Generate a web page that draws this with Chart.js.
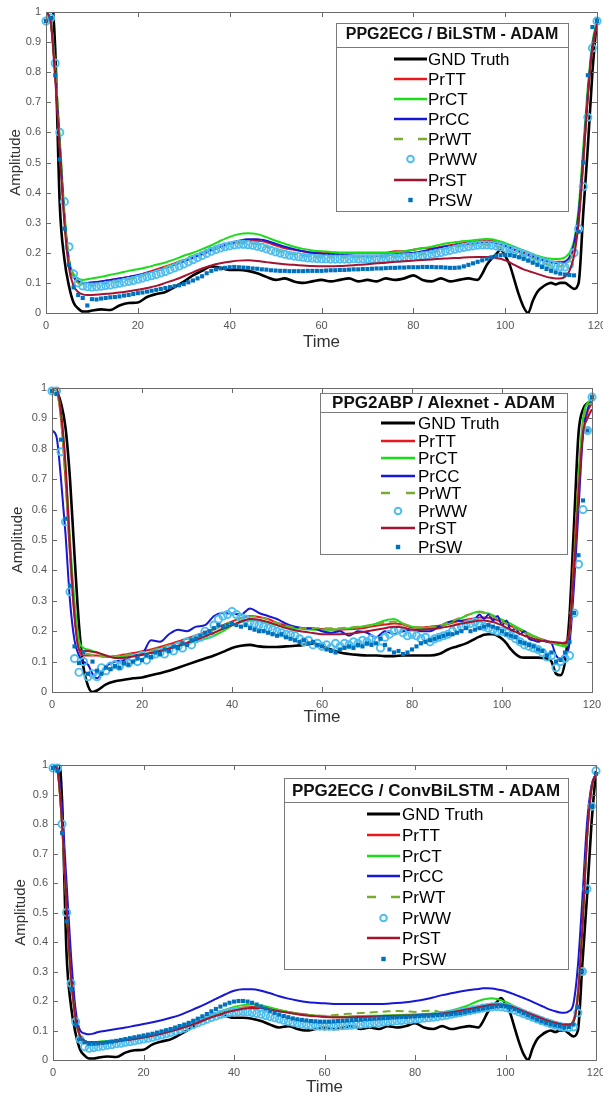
<!DOCTYPE html>
<html>
<head>
<meta charset="utf-8">
<script src="https://cdn.jsdelivr.net/npm/chart.js@4.4.1/dist/chart.umd.min.js"></script>
<style>
  html, body { margin: 0; padding: 0; background: #fff; overflow: hidden; width: 603px; height: 1098px; }
  canvas { position: absolute; left: 0; }
</style>
</head>
<body>
<canvas id="c1" width="620" height="360" style="top:0px"></canvas>
<canvas id="c2" width="620" height="370" style="top:360px"></canvas>
<canvas id="c3" width="620" height="368" style="top:730px"></canvas>
<script>
// time positions used by the line series (denser where the curves turn fast)
const tLine = [0,1,2,3,4,5,6,7,8,9,10,
  12,14,16,18,20,22,24,26,28,30,
  32,34,36,38,40,42,44,46,48,50,
  52,54,56,58,60,62,64,66,68,70,
  72,74,76,78,80,82,84,86,88,90,
  92,94,
  95,96,97,98,99,100,101,102,103,104,
  105,106,107,108,109,110,111,112,113,114,
  115,116,117,118,119,120];

const seriesNames = ['GND Truth','PrTT','PrCT','PrCC','PrWT','PrWW','PrST','PrSW'];

// ---------- ground truths ----------
const gndEcg = [1.2,1.1,0.88,0.36,0.18,0.09,0.035,0.015,0.005,0.005,0.008,
  0.012,0.01,0.025,0.033,0.035,0.053,0.063,0.07,0.086,0.104,
  0.125,0.14,0.155,0.15,0.143,0.143,0.14,0.132,0.12,0.11,
  0.115,0.105,0.1,0.105,0.11,0.105,0.11,0.115,0.105,0.11,
  0.105,0.115,0.11,0.115,0.125,0.11,0.105,0.115,0.105,0.11,
  0.115,0.11,
  0.13,0.16,0.18,0.195,0.21,0.19,0.16,0.11,0.06,0.02,
  0.0,0.04,0.07,0.085,0.095,0.1,0.095,0.1,0.1,0.09,
  0.08,0.1,0.33,0.55,0.8,0.98];

const gndAbp = [1.0,0.99,0.95,0.87,0.7,0.45,0.22,0.08,0.02,0.0,0.005,
  0.025,0.035,0.04,0.045,0.048,0.055,0.062,0.07,0.08,0.09,
  0.1,0.11,0.12,0.132,0.145,0.152,0.155,0.15,0.148,0.148,
  0.15,0.152,0.155,0.16,0.15,0.14,0.13,0.125,0.122,0.12,
  0.12,0.118,0.118,0.12,0.12,0.12,0.12,0.125,0.14,0.15,
  0.16,0.175,
  0.182,0.188,0.19,0.19,0.185,0.175,0.16,0.14,0.125,0.115,
  0.113,0.113,0.113,0.113,0.112,0.11,0.1,0.06,0.055,0.1,
  0.25,0.55,0.85,0.93,0.95,0.96];

// ---------- panel 1 : PPG2ECG / BiLSTM ----------
const p1TT = [1.0,0.97,0.8,0.56,0.32,0.17,0.12,0.105,0.1,0.1,0.1,
  0.105,0.11,0.115,0.12,0.125,0.135,0.145,0.155,0.165,0.175,
  0.185,0.2,0.21,0.22,0.23,0.235,0.24,0.24,0.235,0.225,
  0.215,0.21,0.205,0.2,0.2,0.2,0.2,0.2,0.2,0.2,
  0.2,0.2,0.205,0.205,0.21,0.215,0.215,0.22,0.225,0.23,
  0.235,0.24,
  0.24,0.24,0.24,0.235,0.23,0.225,0.22,0.21,0.205,0.2,
  0.195,0.19,0.185,0.18,0.175,0.17,0.17,0.17,0.17,0.18,
  0.22,0.32,0.5,0.72,0.88,0.96];
const p1CT = [1.0,0.97,0.82,0.58,0.34,0.18,0.13,0.115,0.11,0.112,0.115,
  0.12,0.127,0.133,0.14,0.145,0.152,0.16,0.168,0.178,0.19,
  0.2,0.212,0.225,0.24,0.253,0.262,0.265,0.262,0.252,0.24,
  0.23,0.22,0.213,0.208,0.205,0.203,0.2,0.2,0.2,0.2,
  0.2,0.2,0.202,0.205,0.21,0.215,0.22,0.228,0.233,0.237,
  0.24,0.243,
  0.245,0.246,0.245,0.242,0.238,0.232,0.226,0.22,0.214,0.208,
  0.202,0.196,0.19,0.186,0.182,0.18,0.179,0.18,0.185,0.2,
  0.24,0.35,0.55,0.75,0.9,0.97];
const p1CC = [1.0,0.97,0.8,0.56,0.32,0.17,0.12,0.105,0.1,0.1,0.102,
  0.105,0.11,0.115,0.12,0.126,0.133,0.14,0.15,0.16,0.172,
  0.183,0.195,0.208,0.22,0.232,0.24,0.245,0.245,0.24,0.23,
  0.22,0.212,0.205,0.2,0.197,0.195,0.193,0.192,0.19,0.19,
  0.19,0.192,0.195,0.198,0.2,0.205,0.212,0.218,0.222,0.226,
  0.23,0.233,
  0.235,0.236,0.235,0.232,0.228,0.222,0.216,0.21,0.204,0.198,
  0.192,0.186,0.18,0.176,0.172,0.168,0.166,0.166,0.17,0.185,
  0.23,0.33,0.52,0.73,0.89,0.96];
const p1WT = [1.0,0.97,0.8,0.56,0.32,0.18,0.12,0.1,0.095,0.092,0.092,
  0.095,0.1,0.105,0.112,0.12,0.13,0.14,0.152,0.165,0.178,
  0.19,0.2,0.21,0.22,0.228,0.232,0.232,0.228,0.22,0.21,
  0.2,0.195,0.19,0.187,0.185,0.185,0.185,0.185,0.185,0.185,
  0.185,0.186,0.187,0.188,0.19,0.195,0.2,0.21,0.218,0.222,
  0.226,0.228,
  0.228,0.227,0.225,0.222,0.218,0.212,0.206,0.2,0.195,0.19,
  0.185,0.18,0.174,0.168,0.162,0.157,0.155,0.155,0.16,0.175,
  0.21,0.3,0.5,0.72,0.88,0.96];
const p1ST = [1.0,0.97,0.78,0.54,0.3,0.15,0.09,0.07,0.062,0.06,0.06,
  0.062,0.065,0.068,0.072,0.077,0.083,0.09,0.1,0.11,0.122,
  0.135,0.148,0.158,0.165,0.17,0.174,0.175,0.173,0.169,0.165,
  0.162,0.16,0.158,0.156,0.155,0.155,0.156,0.158,0.16,0.162,
  0.165,0.167,0.17,0.172,0.174,0.176,0.178,0.18,0.182,0.183,
  0.185,0.186,
  0.186,0.186,0.185,0.183,0.18,0.175,0.168,0.16,0.152,0.145,
  0.14,0.135,0.13,0.125,0.12,0.117,0.115,0.115,0.12,0.14,
  0.19,0.3,0.5,0.72,0.88,0.96];
// marker series, one value per time step 0..120
const p1WW = [0.97,0.98,0.83,0.6,0.37,0.22,0.13,0.1,0.09,0.087,
  0.086,0.087,0.089,0.091,0.093,0.096,0.099,0.102,0.105,0.108,
  0.112,0.116,0.12,0.124,0.128,0.133,0.138,0.144,0.15,0.156,
  0.163,0.17,0.177,0.184,0.191,0.198,0.205,0.211,0.216,0.22,
  0.223,0.226,0.228,0.228,0.227,0.225,0.222,0.218,0.213,0.208,
  0.203,0.199,0.195,0.192,0.189,0.187,0.185,0.183,0.182,0.181,
  0.18,0.18,0.179,0.179,0.179,0.179,0.179,0.18,0.18,0.18,
  0.18,0.18,0.18,0.181,0.181,0.182,0.182,0.183,0.184,0.185,
  0.186,0.188,0.19,0.192,0.195,0.198,0.201,0.205,0.208,0.212,
  0.215,0.218,0.221,0.223,0.225,0.226,0.226,0.225,0.223,0.22,
  0.216,0.211,0.206,0.2,0.195,0.189,0.183,0.177,0.171,0.166,
  0.161,0.157,0.154,0.153,0.16,0.2,0.28,0.42,0.65,0.88,
  0.97];
const p1SW = [0.97,0.98,0.79,0.51,0.28,0.16,0.085,0.06,0.05,0.025,
  0.046,0.045,0.048,0.05,0.052,0.053,0.055,0.058,0.06,0.063,
  0.066,0.068,0.071,0.074,0.077,0.08,0.083,0.086,0.089,0.092,
  0.096,0.102,0.108,0.115,0.122,0.132,0.14,0.145,0.148,0.15,
  0.152,0.153,0.152,0.151,0.15,0.148,0.147,0.145,0.144,0.142,
  0.141,0.14,0.14,0.139,0.139,0.139,0.139,0.14,0.14,0.14,
  0.14,0.141,0.142,0.142,0.143,0.143,0.144,0.145,0.145,0.146,
  0.146,0.147,0.148,0.148,0.149,0.15,0.15,0.151,0.151,0.152,
  0.152,0.152,0.153,0.153,0.153,0.152,0.152,0.151,0.15,0.15,
  0.151,0.155,0.16,0.165,0.17,0.175,0.18,0.185,0.19,0.192,
  0.193,0.192,0.189,0.185,0.18,0.174,0.167,0.16,0.153,0.146,
  0.14,0.135,0.131,0.128,0.126,0.125,0.27,0.5,0.79,0.95,
  0.97];

// ---------- panel 2 : PPG2ABP / Alexnet ----------
const p2TT = [1.0,0.99,0.9,0.7,0.45,0.25,0.14,0.12,0.12,0.12,0.12,
  0.115,0.118,0.123,0.128,0.134,0.14,0.148,0.157,0.166,0.176,
  0.186,0.197,0.208,0.22,0.232,0.243,0.25,0.247,0.24,0.228,
  0.218,0.212,0.21,0.208,0.207,0.206,0.205,0.206,0.208,0.212,
  0.218,0.222,0.225,0.222,0.212,0.212,0.215,0.218,0.224,0.232,
  0.238,0.243,
  0.245,0.245,0.244,0.241,0.236,0.23,0.224,0.217,0.21,0.203,
  0.196,0.19,0.184,0.178,0.173,0.168,0.164,0.161,0.16,0.163,
  0.2,0.45,0.7,0.85,0.92,0.95];
const p2CT = [1.0,0.99,0.92,0.74,0.5,0.3,0.17,0.145,0.14,0.135,0.13,
  0.118,0.115,0.118,0.12,0.124,0.13,0.136,0.143,0.15,0.158,
  0.167,0.175,0.185,0.2,0.218,0.23,0.235,0.234,0.228,0.22,
  0.213,0.21,0.207,0.205,0.205,0.205,0.207,0.21,0.213,0.218,
  0.225,0.235,0.24,0.225,0.215,0.21,0.21,0.215,0.225,0.237,
  0.25,0.262,
  0.265,0.262,0.258,0.252,0.245,0.238,0.231,0.224,0.216,0.208,
  0.2,0.192,0.184,0.177,0.171,0.166,0.161,0.157,0.153,0.15,
  0.18,0.4,0.7,0.9,0.95,0.96];
const p2CC = [0.86,0.84,0.7,0.52,0.3,0.17,0.12,0.1,0.09,0.06,0.045,
  0.085,0.1,0.105,0.12,0.125,0.17,0.165,0.19,0.205,0.2,
  0.215,0.22,0.25,0.26,0.258,0.255,0.275,0.26,0.25,0.24,
  0.225,0.215,0.21,0.21,0.2,0.195,0.2,0.185,0.2,0.195,
  0.18,0.2,0.19,0.2,0.205,0.2,0.2,0.215,0.23,0.235,
  0.23,0.24,
  0.255,0.24,0.255,0.235,0.25,0.22,0.235,0.2,0.21,0.19,
  0.2,0.175,0.17,0.165,0.17,0.165,0.16,0.12,0.11,0.12,
  0.16,0.35,0.6,0.85,0.93,0.96];
const p2WT = [1.0,0.99,0.9,0.7,0.45,0.26,0.15,0.13,0.125,0.122,0.12,
  0.115,0.117,0.12,0.125,0.13,0.136,0.144,0.153,0.162,0.172,
  0.182,0.193,0.205,0.218,0.232,0.243,0.248,0.246,0.238,0.227,
  0.218,0.212,0.21,0.21,0.21,0.21,0.21,0.212,0.215,0.218,
  0.222,0.228,0.232,0.225,0.215,0.212,0.213,0.218,0.228,0.24,
  0.252,0.26,
  0.262,0.26,0.255,0.248,0.24,0.232,0.225,0.218,0.21,0.202,
  0.195,0.188,0.181,0.175,0.17,0.165,0.162,0.158,0.155,0.155,
  0.19,0.42,0.7,0.88,0.94,0.95];
const p2ST = [1.0,1.0,0.92,0.75,0.48,0.25,0.14,0.135,0.135,0.132,0.13,
  0.12,0.112,0.113,0.117,0.122,0.128,0.135,0.143,0.152,0.162,
  0.172,0.183,0.195,0.208,0.22,0.232,0.24,0.238,0.23,0.22,
  0.21,0.203,0.198,0.194,0.19,0.19,0.19,0.192,0.195,0.2,
  0.205,0.21,0.215,0.212,0.205,0.205,0.207,0.21,0.215,0.222,
  0.228,0.233,
  0.235,0.235,0.233,0.23,0.225,0.219,0.212,0.205,0.198,0.191,
  0.185,0.18,0.175,0.171,0.168,0.166,0.165,0.164,0.162,0.16,
  0.2,0.4,0.65,0.85,0.9,0.93];
const p2WW = [0.99,0.99,0.79,0.56,0.33,0.11,0.065,0.1,0.05,0.06,
  0.05,0.08,0.07,0.085,0.09,0.085,0.1,0.095,0.11,0.1,
  0.12,0.105,0.12,0.125,0.13,0.125,0.14,0.135,0.15,0.145,
  0.165,0.155,0.175,0.18,0.2,0.19,0.22,0.24,0.25,0.255,
  0.265,0.255,0.245,0.24,0.23,0.225,0.22,0.215,0.21,0.205,
  0.2,0.195,0.19,0.188,0.185,0.175,0.165,0.17,0.155,0.16,
  0.15,0.155,0.145,0.16,0.15,0.16,0.155,0.165,0.16,0.17,
  0.165,0.175,0.17,0.145,0.18,0.19,0.2,0.205,0.195,0.185,
  0.19,0.185,0.175,0.18,0.165,0.175,0.18,0.185,0.19,0.2,
  0.21,0.215,0.22,0.225,0.23,0.22,0.215,0.21,0.205,0.2,
  0.2,0.195,0.185,0.175,0.165,0.155,0.15,0.145,0.14,0.13,
  0.115,0.12,0.08,0.1,0.11,0.12,0.26,0.42,0.6,0.86,
  0.97];
const p2SW = [0.99,0.98,0.83,0.57,0.35,0.15,0.095,0.13,0.06,0.1,
  0.07,0.06,0.08,0.075,0.085,0.08,0.095,0.09,0.1,0.11,
  0.105,0.12,0.115,0.13,0.125,0.14,0.135,0.15,0.145,0.16,
  0.155,0.17,0.175,0.185,0.195,0.2,0.21,0.22,0.215,0.22,
  0.225,0.22,0.215,0.22,0.21,0.205,0.2,0.2,0.195,0.19,
  0.185,0.19,0.18,0.175,0.17,0.165,0.17,0.16,0.165,0.155,
  0.15,0.14,0.135,0.13,0.14,0.145,0.15,0.145,0.155,0.15,
  0.16,0.155,0.16,0.175,0.155,0.14,0.13,0.135,0.125,0.13,
  0.14,0.15,0.16,0.165,0.17,0.175,0.18,0.185,0.19,0.19,
  0.195,0.2,0.21,0.2,0.205,0.21,0.215,0.22,0.215,0.21,
  0.2,0.19,0.185,0.18,0.165,0.16,0.155,0.15,0.14,0.135,
  0.12,0.13,0.1,0.105,0.13,0.165,0.26,0.45,0.63,0.86,
  0.97];

// ---------- panel 3 : PPG2ECG / ConvBiLSTM ----------
const p3TT = [1.0,0.98,0.8,0.52,0.28,0.14,0.08,0.065,0.06,0.06,0.06,
  0.062,0.065,0.068,0.072,0.077,0.083,0.09,0.098,0.107,0.117,
  0.128,0.14,0.152,0.163,0.172,0.178,0.18,0.179,0.175,0.169,
  0.163,0.158,0.154,0.15,0.147,0.145,0.145,0.146,0.147,0.148,
  0.149,0.15,0.151,0.152,0.153,0.155,0.157,0.16,0.163,0.167,
  0.172,0.178,
  0.181,0.184,0.187,0.189,0.19,0.188,0.185,0.18,0.174,0.168,
  0.162,0.156,0.15,0.144,0.138,0.133,0.128,0.124,0.121,0.12,
  0.13,0.22,0.45,0.75,0.92,0.97];
const p3CT = [1.0,0.98,0.8,0.52,0.28,0.14,0.08,0.065,0.06,0.06,0.062,
  0.064,0.067,0.07,0.074,0.079,0.085,0.092,0.1,0.11,0.12,
  0.132,0.145,0.158,0.17,0.18,0.186,0.188,0.185,0.178,0.17,
  0.163,0.157,0.153,0.15,0.148,0.147,0.147,0.148,0.149,0.15,
  0.15,0.151,0.152,0.153,0.154,0.156,0.158,0.162,0.168,0.176,
  0.187,0.2,
  0.205,0.208,0.209,0.207,0.203,0.197,0.19,0.182,0.174,0.166,
  0.158,0.15,0.143,0.137,0.131,0.126,0.122,0.119,0.117,0.118,
  0.13,0.22,0.45,0.75,0.92,0.97];
const p3CC = [1.0,0.99,0.85,0.6,0.35,0.17,0.1,0.09,0.087,0.09,0.095,
  0.1,0.105,0.11,0.116,0.122,0.128,0.135,0.143,0.152,0.165,
  0.178,0.192,0.207,0.222,0.235,0.24,0.24,0.235,0.226,0.216,
  0.208,0.202,0.197,0.194,0.192,0.19,0.19,0.19,0.19,0.19,
  0.19,0.191,0.193,0.196,0.2,0.205,0.212,0.22,0.226,0.232,
  0.237,0.241,
  0.243,0.243,0.242,0.24,0.237,0.233,0.228,0.222,0.216,0.21,
  0.204,0.197,0.19,0.183,0.176,0.17,0.165,0.161,0.16,0.165,
  0.19,0.32,0.55,0.8,0.93,0.97];
const p3WT = [1.0,0.98,0.8,0.52,0.28,0.14,0.08,0.065,0.06,0.06,0.06,
  0.062,0.065,0.068,0.072,0.077,0.083,0.09,0.098,0.107,0.117,
  0.128,0.14,0.152,0.163,0.172,0.177,0.178,0.176,0.172,0.166,
  0.16,0.156,0.153,0.151,0.15,0.152,0.155,0.157,0.159,0.161,
  0.163,0.165,0.166,0.165,0.163,0.166,0.167,0.16,0.158,0.163,
  0.17,0.177,
  0.18,0.183,0.185,0.186,0.186,0.184,0.18,0.175,0.169,0.163,
  0.157,0.151,0.145,0.139,0.134,0.129,0.125,0.122,0.12,0.12,
  0.135,0.23,0.46,0.75,0.92,0.97];
const p3ST = [1.0,0.98,0.8,0.52,0.28,0.14,0.08,0.065,0.06,0.06,0.06,
  0.061,0.064,0.067,0.071,0.076,0.082,0.089,0.097,0.106,0.116,
  0.127,0.139,0.15,0.16,0.168,0.174,0.176,0.175,0.171,0.165,
  0.16,0.155,0.151,0.148,0.146,0.145,0.145,0.145,0.146,0.147,
  0.148,0.149,0.15,0.151,0.152,0.153,0.155,0.158,0.162,0.167,
  0.173,0.179,
  0.182,0.185,0.187,0.188,0.188,0.186,0.182,0.177,0.171,0.165,
  0.159,0.153,0.147,0.141,0.135,0.13,0.126,0.122,0.12,0.12,
  0.13,0.22,0.45,0.75,0.92,0.97];
const p3WW = [0.99,0.99,0.8,0.5,0.26,0.13,0.07,0.045,0.04,0.042,
  0.045,0.047,0.05,0.052,0.055,0.057,0.06,0.062,0.065,0.068,
  0.071,0.074,0.077,0.081,0.085,0.089,0.093,0.098,0.103,0.108,
  0.114,0.12,0.126,0.132,0.138,0.144,0.149,0.154,0.158,0.161,
  0.163,0.164,0.164,0.163,0.161,0.158,0.155,0.151,0.147,0.143,
  0.139,0.135,0.131,0.128,0.125,0.122,0.12,0.118,0.116,0.115,
  0.114,0.114,0.114,0.115,0.116,0.117,0.118,0.12,0.121,0.123,
  0.124,0.126,0.127,0.129,0.13,0.132,0.133,0.134,0.136,0.137,
  0.139,0.14,0.142,0.143,0.145,0.147,0.149,0.152,0.155,0.158,
  0.161,0.164,0.167,0.17,0.173,0.176,0.178,0.18,0.181,0.18,
  0.178,0.174,0.169,0.163,0.157,0.151,0.145,0.139,0.133,0.128,
  0.123,0.118,0.114,0.111,0.11,0.112,0.16,0.3,0.58,0.86,
  0.98];
const p3SW = [0.99,0.98,0.77,0.47,0.24,0.12,0.07,0.06,0.055,0.055,
  0.056,0.058,0.06,0.062,0.065,0.068,0.071,0.074,0.077,0.08,
  0.083,0.086,0.089,0.093,0.097,0.101,0.105,0.11,0.115,0.12,
  0.126,0.133,0.14,0.148,0.156,0.165,0.173,0.181,0.188,0.194,
  0.198,0.2,0.2,0.198,0.194,0.188,0.181,0.174,0.167,0.16,
  0.154,0.149,0.145,0.141,0.138,0.136,0.134,0.132,0.131,0.13,
  0.13,0.13,0.131,0.132,0.133,0.134,0.135,0.136,0.137,0.138,
  0.139,0.14,0.141,0.142,0.143,0.144,0.145,0.146,0.146,0.147,
  0.148,0.149,0.15,0.15,0.151,0.152,0.153,0.154,0.155,0.157,
  0.159,0.162,0.165,0.168,0.171,0.174,0.177,0.18,0.182,0.183,
  0.182,0.178,0.172,0.165,0.158,0.151,0.144,0.137,0.131,0.126,
  0.121,0.117,0.114,0.112,0.112,0.12,0.18,0.3,0.57,0.86,
  0.97];

const FONT = "'Liberation Sans', Arial, sans-serif";

// MATLAB-like series look
const looks = {
  'GND Truth': { color: '#000000', width: 2.6 },
  'PrTT': { color: '#e8191c', width: 2 },
  'PrCT': { color: '#19dd19', width: 2 },
  'PrCC': { color: '#1717d6', width: 2 },
  'PrWT': { color: '#77ac30', width: 2, dash: [8, 5] },
  'PrWW': { color: '#4dbeee', marker: 'circle' },
  'PrST': { color: '#a2142f', width: 2 },
  'PrSW': { color: '#0072bd', marker: 'rect' }
};

function buildDatasets(values) {
  return seriesNames.map((name, i) => {
    const lk = looks[name];
    const arr = values[i];
    if (lk.marker) {
      return {
        label: name,
        data: arr.map((v, k) => ({ x: k, y: v })),
        showLine: false,
        clip: false,
        pointStyle: lk.marker,
        pointRadius: lk.marker === 'circle' ? 3.6 : 2.9,
        pointBorderWidth: lk.marker === 'circle' ? 1.9 : 0,
        pointBorderColor: lk.color,
        pointBackgroundColor: lk.marker === 'circle' ? 'rgba(0,0,0,0)' : lk.color,
        order: 8 - i
      };
    }
    return {
      label: name,
      data: arr.map((v, k) => ({ x: tLine[k], y: v })),
      borderColor: lk.color,
      borderWidth: lk.width,
      borderDash: lk.dash || [],
      pointRadius: 0,
      fill: false,
      cubicInterpolationMode: 'monotone',
      order: 8 - i
    };
  });
}

// frame, inward ticks and the boxed legend drawn the MATLAB way
const matlabFrame = {
  id: 'matlabFrame',
  afterDatasetsDraw(chart, args, opts) {
    const ctx = chart.ctx;
    const a = chart.chartArea;
    const xs = chart.scales.x, ys = chart.scales.y;
    ctx.save();
    ctx.strokeStyle = '#6a6a6a';
    ctx.lineWidth = 1;
    ctx.setLineDash([]);
    ctx.strokeRect(Math.round(a.left) + 0.5, Math.round(a.top) + 0.5,
      Math.round(a.right - a.left), Math.round(a.bottom - a.top));
    ctx.beginPath();
    xs.ticks.forEach(t => {
      const px = Math.round(xs.getPixelForValue(t.value)) + 0.5;
      ctx.moveTo(px, a.bottom); ctx.lineTo(px, a.bottom - 5);
      ctx.moveTo(px, a.top); ctx.lineTo(px, a.top + 5);
    });
    ys.ticks.forEach(t => {
      const py = Math.round(ys.getPixelForValue(t.value)) + 0.5;
      ctx.moveTo(a.left, py); ctx.lineTo(a.left + 5, py);
      ctx.moveTo(a.right, py); ctx.lineTo(a.right - 5, py);
    });
    ctx.stroke();

    // legend box
    const [x1, y1, x2, y2] = opts.box;
    ctx.fillStyle = '#ffffff';
    ctx.fillRect(x1, y1, x2 - x1, y2 - y1);
    ctx.strokeStyle = '#7a7a7a';
    ctx.strokeRect(x1 + 0.5, y1 + 0.5, x2 - x1, y2 - y1);
    ctx.beginPath();
    ctx.moveTo(x1, opts.titleLine + 0.5); ctx.lineTo(x2, opts.titleLine + 0.5);
    ctx.stroke();

    ctx.fillStyle = '#111';
    ctx.font = 'bold ' + opts.titleSize + 'px ' + FONT;
    ctx.textAlign = 'center';
    ctx.textBaseline = 'middle';
    ctx.fillText(opts.title, (x1 + x2) / 2, opts.titleY);

    const [s1, s2] = opts.sample;
    const mid = (s1 + s2) / 2;
    ctx.font = opts.entrySize + 'px ' + FONT;
    ctx.textAlign = 'left';
    chart.data.datasets.forEach((ds, i) => {
      const y = opts.rows[i];
      const lk = looks[ds.label];
      if (lk.marker === 'circle') {
        ctx.setLineDash([]);
        ctx.strokeStyle = lk.color; ctx.lineWidth = 2;
        ctx.beginPath(); ctx.arc(mid, y, 3.3, 0, Math.PI * 2); ctx.stroke();
      } else if (lk.marker === 'rect') {
        ctx.fillStyle = lk.color;
        ctx.fillRect(mid - 2.2, y - 2.2, 4.4, 4.4);
      } else {
        ctx.strokeStyle = lk.color;
        ctx.lineWidth = lk.width + 0.6;
        ctx.setLineDash(lk.dash ? [9, s2 - s1 - 18] : []);
        ctx.beginPath(); ctx.moveTo(s1, y); ctx.lineTo(s2, y); ctx.stroke();
      }
      ctx.setLineDash([]);
      ctx.fillStyle = '#000';
      ctx.fillText(ds.label, opts.textX, y + 1);
    });
    ctx.restore();
  }
};

function makePanel(id, values, lay, leg) {
  const cv = document.getElementById(id);
  return new Chart(cv, {
    type: 'line',
    data: { datasets: buildDatasets(values) },
    options: {
      responsive: false,
      animation: false,
      devicePixelRatio: 1,
      layout: { padding: { left: 0, top: lay.top, right: cv.width - lay.right, bottom: 0 } },
      plugins: {
        legend: { display: false },
        tooltip: { enabled: false },
        matlabFrame: leg
      },
      scales: {
        x: {
          type: 'linear', min: 0, max: 120,
          grid: { display: false, drawTicks: false },
          border: { display: false },
          ticks: { stepSize: 20, padding: 6, maxRotation: 0, color: '#555', font: { family: FONT, size: 11 } },
          title: { display: true, text: 'Time', color: '#333', font: { family: FONT, size: 17 }, padding: { top: 0, bottom: lay.timePad } },
          afterFit(s) { s.height = cv.height - lay.bottom; }
        },
        y: {
          min: 0, max: 1,
          grid: { display: false, drawTicks: false },
          border: { display: false },
          ticks: {
            stepSize: 0.1, padding: 5, color: '#555', font: { family: FONT, size: 11 },
            callback: v => String(Number(v.toFixed(1)))
          },
          title: { display: true, text: 'Amplitude', color: '#333', font: { family: FONT, size: 15 }, padding: { top: lay.ampPad, bottom: 0 } },
          afterFit(s) { s.width = lay.left; }
        }
      }
    },
    plugins: [matlabFrame]
  });
}

makePanel('c1', [gndEcg, p1TT, p1CT, p1CC, p1WT, p1WW, p1ST, p1SW],
  { left: 46, top: 12, right: 597, bottom: 313, timePad: 7, ampPad: 7 },
  { title: 'PPG2ECG / BiLSTM - ADAM', box: [336, 23, 568, 211], titleLine: 47, titleY: 35,
    titleSize: 16, entrySize: 17, sample: [394, 427], textX: 428,
    rows: [59, 79, 99, 119, 139, 159, 180, 200] });

makePanel('c2', [gndAbp, p2TT, p2CT, p2CC, p2WT, p2WW, p2ST, p2SW],
  { left: 52, top: 28, right: 592, bottom: 332, timePad: 2, ampPad: 9 },
  { title: 'PPG2ABP / Alexnet - ADAM', box: [320, 33, 567, 194], titleLine: 52, titleY: 43,
    titleSize: 17, entrySize: 17, sample: [381, 415], textX: 418,
    rows: [63, 81, 98, 116, 133, 151, 168, 187] });

makePanel('c3', [gndEcg, p3TT, p3CT, p3CC, p3WT, p3WW, p3ST, p3SW],
  { left: 53, top: 35, right: 596, bottom: 330, timePad: 0, ampPad: 12 },
  { title: 'PPG2ECG / ConvBiLSTM - ADAM', box: [284, 48, 568, 239], titleLine: 72, titleY: 61,
    titleSize: 17, entrySize: 17, sample: [367, 400], textX: 402,
    rows: [84, 105, 126, 146, 167, 188, 208, 229] });
</script>
</body>
</html>
